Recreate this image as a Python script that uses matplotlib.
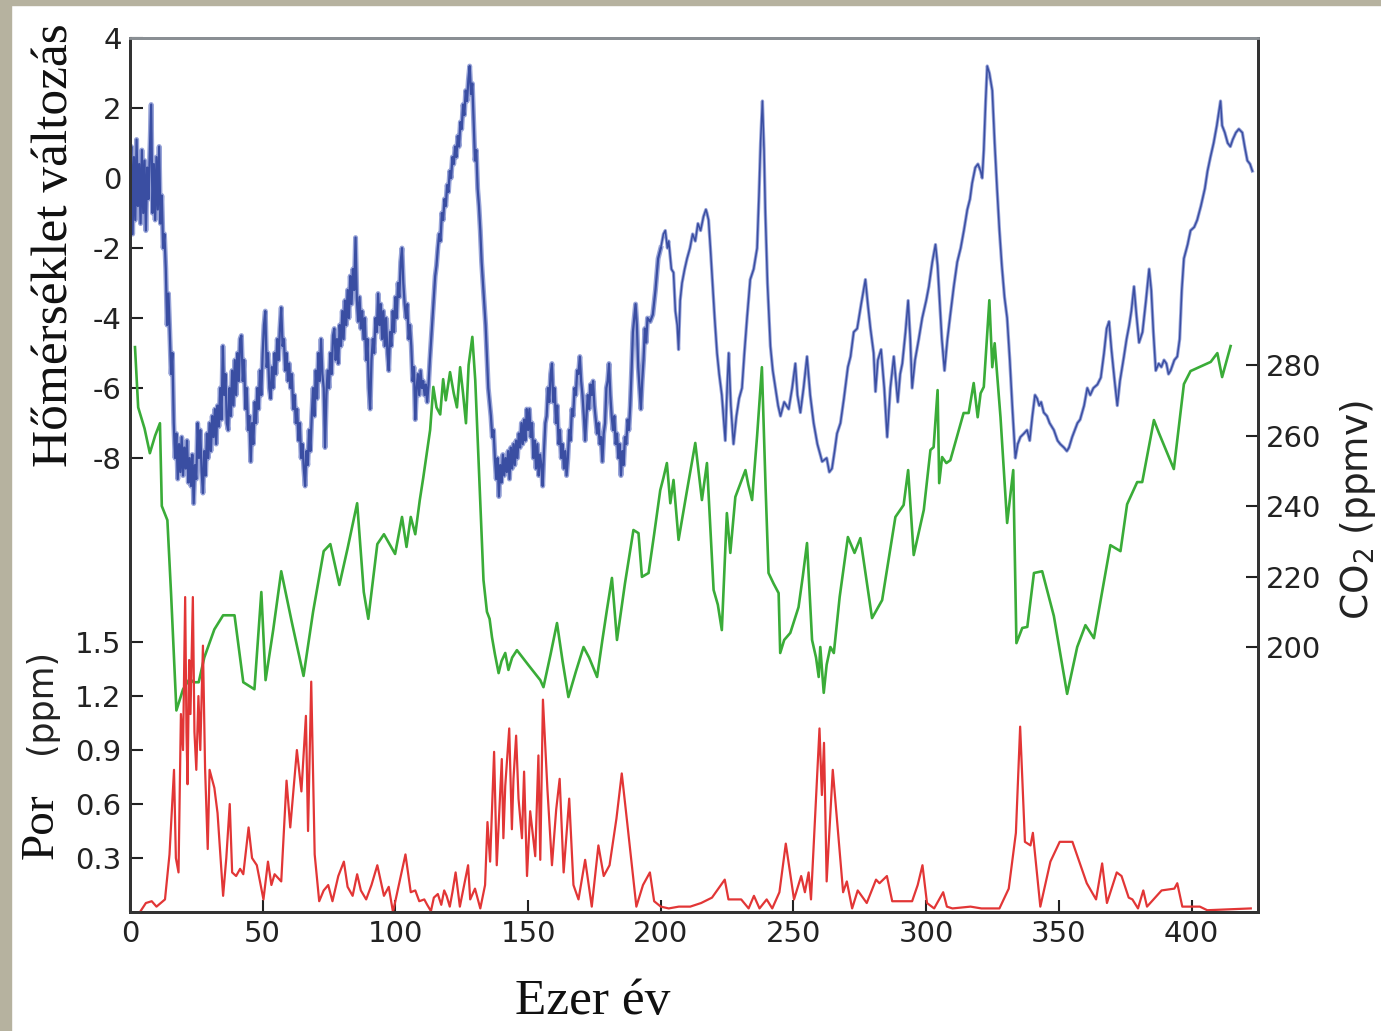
import matplotlib.pyplot as plt
from matplotlib.patches import Rectangle

# Vostok-type record: temperature change, CO2 and dust vs. thousand years
temp_age = [0, 0.5, 1, 1.5, 2, 2.5, 3, 3.5, 4, 4.5, 5, 5.5, 6, 6.5, 7, 7.5, 8, 8.5, 9, 9.5,
            10, 10.5, 11, 11.5, 12, 12.5, 13, 13.5, 14, 14.5, 15, 15.5, 16, 16.5, 17, 17.5, 18, 18.5, 19, 19.5,
            20, 20.5, 21, 21.5, 22, 22.5, 23, 23.5, 24, 24.5, 25, 25.5, 26, 26.5, 27, 27.5, 28, 28.5, 29, 29.5,
            30, 30.5, 31, 31.5, 32, 32.5, 33, 33.5, 34, 34.5, 35, 35.5, 36, 36.5, 37, 37.5, 38, 38.5, 39, 39.5,
            40, 40.5, 41, 41.5, 42, 42.5, 43, 43.5, 44, 44.5, 45, 45.5, 46, 46.5, 47, 47.5, 48, 48.5, 49, 49.5,
            50, 50.5, 51, 51.5, 52, 52.5, 53, 53.5, 54, 54.5, 55, 55.5, 56, 56.5, 57, 57.5, 58, 58.5, 59, 59.5,
            60, 60.5, 61, 61.5, 62, 62.5, 63, 63.5, 64, 64.5, 65, 65.5, 66, 66.5, 67, 67.5, 68, 68.5, 69, 69.5,
            70, 70.5, 71, 71.5, 72, 72.5, 73, 73.5, 74, 74.5, 75, 75.5, 76, 76.5, 77, 77.5, 78, 78.5, 79, 79.5,
            80, 80.5, 81, 81.5, 82, 82.5, 83, 83.5, 84, 84.5, 85, 85.5, 86, 86.5, 87, 87.5, 88, 88.5, 89, 89.5,
            90, 90.5, 91, 91.5, 92, 92.5, 93, 93.5, 94, 94.5, 95, 95.5, 96, 96.5, 97, 97.5, 98, 98.5, 99, 99.5,
            100, 100.5, 101, 101.5, 102, 102.5, 103, 103.5, 104, 104.5, 105, 105.5, 106, 106.5, 107, 107.5, 108, 108.5, 109, 109.5,
            110, 110.5, 111, 111.5, 112, 112.5, 113, 113.5, 114, 114.5, 115, 115.5, 116, 116.5, 117, 117.5, 118, 118.5, 119, 119.5,
            120, 120.5, 121, 121.5, 122, 122.5, 123, 123.5, 124, 124.5, 125, 125.5, 126, 126.5, 127, 127.5, 128, 128.5, 129, 129.5,
            130, 130.5, 131, 131.5, 132, 132.5, 133, 134, 135, 136, 136.5, 137, 137.5, 138, 138.5, 139, 139.5,
            140, 140.5, 141, 141.5, 142, 142.5, 143, 143.5, 144, 144.5, 145, 145.5, 146, 146.5, 147, 147.5, 148, 148.5, 149, 149.5,
            150, 150.5, 151, 151.5, 152, 152.5, 153, 153.5, 154, 154.5, 155, 155.5, 156, 156.5, 157, 157.5, 158, 158.5, 159, 159.5,
            160, 160.5, 161, 161.5, 162, 162.5, 163, 163.5, 164, 164.5, 165, 165.5, 166, 166.5, 167, 167.5, 168, 168.5, 169, 169.5,
            170, 170.5, 171, 171.5, 172, 172.5, 173, 173.5, 174, 174.5, 175, 175.5, 176, 176.5, 177, 177.5, 178, 178.5, 179, 179.5,
            180, 180.5, 181, 181.5, 182, 182.5, 183, 183.5, 184, 184.5, 185, 185.5, 186, 186.5, 187, 187.5, 188, 188.5, 189, 189.5,
            190, 190.5, 191, 191.5, 192, 192.5, 193, 193.5, 194, 194.5, 195, 196, 197, 198, 199,
            200, 201, 201.7, 202.5, 203, 204, 204.8, 205.5, 206.2, 206.7, 207.3, 208, 209, 209.9,
            211, 212, 213, 214, 215, 216.1, 217, 217.4, 218, 218.7, 219.5, 220.3, 221.2, 222, 223, 224.3,
            225, 225.6, 226.4, 227.4, 228.5, 229.5, 230.6, 231.5, 232.5, 233.7, 235, 236.3, 237, 237.6, 238.3, 238.9, 239.4,
            240.2, 241.3, 242.2, 243.2, 244.2, 245.1, 246.5, 248.2, 249.5, 250.7, 251.5, 252.6, 253.8, 255.1, 256.3, 257.6, 259,
            260.8, 262.5, 263.5, 264.5, 265.5, 266.4, 267.7, 269, 270.5, 271.5, 272.7, 274, 275.5, 277.1, 278, 279,
            280.2, 280.9, 281.8, 283, 284.2, 285.3, 286.5, 287.8, 288.6, 289.3, 290.2, 291, 292.2, 293.2, 294, 294.7,
            295.8, 297.2, 298.5, 300, 301, 302.3, 303.5, 304.3, 305, 305.9, 306.9, 308, 309.1, 310.4, 311.7, 313, 314.2,
            315.5, 316.5, 317.3, 318.5, 319.5, 320.5, 321.1, 321.7, 322.4, 323, 323.8, 324.9, 325.8, 326.7, 327.6, 328.5,
            329.5, 330.5, 331.5, 332.5, 333.6, 334.5, 335.5, 336.8, 338, 339, 340, 341, 341.8, 342.6, 343.3, 344.3,
            345.5, 346.5, 348.1, 349.5, 350.5, 351.9, 353, 353.8, 355, 356, 357, 358, 359.5, 360.7, 361.8, 363,
            364.5, 365.8, 367, 368, 368.9, 369.8, 371, 372, 373, 374.5, 375.5, 376.5, 377.3, 378.3, 379.2, 380.2,
            381.5, 382.8, 384, 384.8, 385.6, 386.5, 387.6, 388.6, 389.6, 390.5, 391.3, 392.1, 393.5, 394.6, 395.5, 396.3,
            397.1, 398.5, 399.6, 401, 402.1, 403.5, 405, 406, 407.1, 408.3, 409.5, 410.3, 410.9, 411.5, 412.5, 413.6,
            414.6, 415.5, 416.7, 417.8, 419.1, 420, 421, 422, 422.9]
temp_change = [-0.2, 0.9, -1.6, 0.6, -1.2, 1.1, -0.8, 0.4, -1.3, 0.8, -1.0, 0.5, -1.5, 0.3, -0.6, 0.7, 2.1, -1.0, 0.4, -1.2,
               0.6, -0.9, 0.9, -1.3, -0.5, -2.0, -1.6, -2.6, -4.2, -3.3, -4.4, -5.6, -5.0, -7.0, -8.0, -7.3, -8.6, -7.6, -8.4, -7.4,
               -8.5, -7.7, -8.3, -7.5, -8.7, -8.0, -8.8, -7.9, -9.3, -8.2, -8.6, -7.0, -8.0, -7.2, -8.4, -9.0, -7.8, -8.5, -7.3, -8.0,
               -7.0, -7.8, -6.8, -7.4, -6.6, -7.6, -6.5, -7.1, -6.0, -6.9, -4.8, -6.2, -5.6, -7.0, -7.2, -6.0, -6.8, -5.5, -6.5, -5.2,
               -6.2, -5.0, -5.8, -4.6, -4.5, -5.8, -5.2, -6.6, -6.0, -7.2, -6.8, -8.1, -7.0, -7.6, -6.4, -7.0, -6.0, -6.6, -5.5, -6.2,
               -5.0, -4.2, -3.8, -5.4, -5.0, -6.0, -6.3, -5.4, -6.0, -5.0, -5.6, -4.6, -5.2, -4.3, -3.7, -4.8, -4.6, -5.5, -5.0, -5.8,
               -5.3, -6.0, -5.6, -6.6, -6.2, -7.0, -6.6, -7.5, -7.0, -8.0, -7.6, -8.3, -8.8, -7.8, -8.2, -7.2, -7.8, -6.8, -6.0, -6.8,
               -5.5, -6.3, -5.0, -5.8, -4.6, -5.6, -6.0, -7.7, -6.2, -5.5, -6.0, -5.0, -5.6, -4.5, -4.3, -5.2, -4.6, -5.3, -4.2, -4.8,
               -3.8, -4.6, -3.5, -4.2, -3.2, -4.0, -2.8, -3.6, -2.6, -3.2, -1.7, -3.5, -4.1, -3.4, -4.3, -3.8, -4.6, -4.0, -5.2, -4.6,
               -6.0, -6.6, -5.2, -4.6, -5.0, -4.0, -4.4, -3.3, -4.2, -3.6, -4.6, -3.8, -4.8, -4.0, -5.0, -5.5, -4.4, -4.8, -3.8, -4.4,
               -3.4, -4.0, -3.0, -3.4, -2.4, -2.0, -3.0, -3.6, -4.0, -3.6, -4.6, -4.2, -4.8, -5.8, -5.4, -6.9, -6.0, -5.6, -6.2, -5.5,
               -6.0, -5.8, -6.2, -5.9, -6.4, -5.9, -5.2, -4.6, -4.0, -3.4, -2.8, -2.5, -2.0, -1.6, -1.8, -1.0, -1.2, -0.6, -0.8, -0.2,
               -0.4, 0.2, 0.0, 0.6, 0.4, 0.9, 0.6, 1.2, 0.9, 1.6, 1.4, 2.1, 1.8, 2.5, 2.2, 2.8, 3.2, 2.4, 2.7, 1.6,
               0.5, 0.8, -0.3, -0.8, -1.5, -2.4, -3.0, -4.2, -6.0, -6.8, -7.4, -7.2, -8.0, -8.6, -8.0, -9.1, -8.2,
               -8.7, -7.9, -8.5, -8.0, -8.4, -7.8, -8.6, -7.7, -8.3, -7.6, -8.2, -7.5, -8.0, -7.3, -7.7, -7.0, -7.6, -6.9, -7.5, -6.6,
               -7.2, -6.6, -7.4, -7.0, -8.0, -7.5, -8.3, -7.6, -8.5, -7.9, -8.2, -8.8, -7.8, -7.0, -6.8, -6.0, -6.4, -5.6, -5.3, -6.4,
               -6.0, -7.0, -6.5, -7.6, -7.2, -8.0, -7.6, -8.3, -7.8, -8.5, -8.0, -7.2, -7.5, -6.6, -6.8, -6.0, -6.2, -5.5, -5.6, -5.1,
               -5.8, -6.2, -6.8, -7.5, -6.8, -6.2, -6.6, -5.9, -6.2, -5.8, -6.5, -6.9, -7.3, -7.0, -7.6, -7.4, -8.1, -7.3, -7.0, -6.0,
               -5.8, -5.3, -6.2, -6.8, -7.2, -6.8, -7.6, -7.3, -8.0, -7.6, -8.5, -7.8, -8.2, -7.4, -7.6, -6.9, -7.2, -6.5, -5.5, -4.4,
               -4.0, -3.6, -4.2, -5.4, -6.0, -6.6, -5.8, -5.2, -4.3, -4.7, -4.0, -4.1, -3.9, -3.2, -2.3,
               -2.0, -1.6, -1.5, -2.0, -1.8, -2.6, -2.7, -3.8, -4.2, -4.9, -3.5, -3.0, -2.6, -2.3,
               -2.0, -1.6, -1.8, -1.3, -1.5, -1.1, -0.9, -1.0, -1.2, -2.0, -3.0, -4.0, -5.0, -5.6, -6.2, -7.5,
               -6.0, -5.0, -6.5, -7.6, -6.8, -6.3, -6.0, -5.0, -4.0, -2.9, -2.6, -2.0, -0.5, 1.0, 2.2, 0.8, -1.0,
               -3.0, -4.8, -5.5, -6.0, -6.5, -6.8, -6.4, -6.6, -6.0, -5.3, -6.2, -6.7, -6.0, -5.1, -6.2, -7.0, -7.6,
               -8.1, -8.0, -8.4, -8.3, -7.8, -7.3, -7.0, -6.3, -5.4, -5.1, -4.4, -4.3, -3.6, -2.9, -3.6, -4.3,
               -5.0, -6.1, -5.2, -4.9, -6.0, -7.4, -6.0, -5.1, -5.8, -6.4, -5.6, -5.3, -4.4, -3.5, -4.6, -6.0,
               -5.2, -4.6, -4.0, -3.5, -3.1, -2.4, -1.9, -2.5, -3.4, -4.6, -5.5, -4.6, -3.9, -3.1, -2.4, -2.0, -1.5,
               -0.9, -0.6, -0.15, 0.3, 0.4, 0.2, 0.0, 0.8, 2.2, 3.2, 3.0, 2.5, 1.0, -0.3, -1.5, -2.5,
               -3.4, -4.0, -5.2, -6.6, -8.0, -7.6, -7.4, -7.3, -7.2, -7.5, -6.8, -6.2, -6.3, -6.5, -6.4, -6.7,
               -6.8, -7.0, -7.2, -7.5, -7.6, -7.7, -7.8, -7.7, -7.4, -7.2, -7.0, -6.9, -6.5, -6.0, -6.2, -6.0,
               -5.9, -5.7, -5.0, -4.3, -4.1, -4.9, -5.8, -6.5, -5.8, -5.1, -4.6, -4.2, -3.8, -3.1, -3.9, -4.7,
               -4.4, -3.5, -2.6, -3.2, -4.4, -5.5, -5.3, -5.4, -5.2, -5.3, -5.6, -5.5, -5.2, -5.1, -4.6, -3.2,
               -2.3, -1.9, -1.5, -1.4, -1.2, -0.8, -0.3, 0.2, 0.6, 1.0, 1.5, 1.9, 2.2, 1.5, 1.3, 1.0,
               0.9, 1.1, 1.3, 1.4, 1.3, 0.9, 0.5, 0.4, 0.2]

co2_age = [1.9, 3.1, 5.5, 7.5, 9.5, 11.3, 12, 14.1, 15.5, 17.5, 20, 22.5, 24, 25.9, 28, 31.8, 35.1, 39.4,
           42.7, 46.9, 49.5, 51.1, 54, 57, 61, 65.4, 69, 73, 75.5, 78.9, 82, 85.6, 88.1, 89.8, 93.2, 95.7,
           99.9, 102.5, 104.2, 105.8, 107.5, 109.2, 110.5, 113.1, 114.3, 115.5, 116.9, 118, 119, 120.6, 122,
           123.2, 124.4, 125.5, 126.6, 127.6, 129, 130.1, 131.5, 133.2, 134.5, 135.5, 136.4, 137.5, 138.9, 140,
           141.4, 142.6, 144, 145.8, 150, 154.6, 155.8, 158.5, 160.9, 163, 165.2, 168, 170.9, 173, 176, 178,
           179.7, 181.6, 183.5, 186.5, 189.7, 191.6, 192.9, 195.4, 197.5, 199.8, 201, 202.3, 203.6, 204.8, 206.7,
           209.9, 213, 215.5, 217.4, 219.9, 221.5, 223, 224.9, 226.2, 228.1, 231.9, 233, 234.4, 236.3, 238.1,
           239.5, 240.6, 242.5, 244.4, 245, 246.5, 248.8, 251.9, 253.5, 255.1, 257, 258.5, 259.5, 260.1, 261.4,
           262.5, 263.9, 265.2, 267.4, 270.5, 273, 275.2, 279.6, 283.4, 288.4, 291.5, 293.2, 295.3, 299.1, 301.6,
           302.8, 304.3, 304.9, 306, 307.6, 309.1, 312.3, 314.1, 316, 317.9, 319.4, 320.5, 321.7, 323.8, 324.9,
           325.8, 328, 330.5, 332.8, 334, 336.2, 338.1, 340.6, 343.7, 348.1, 353.1, 356.9, 360, 363.2, 369.4,
           373.2, 375.7, 379.5, 381.4, 385.8, 387.7, 393.3, 397.1, 399.6, 407.2, 409.7, 411.5, 414.7]
co2_ppmv = [285.1, 268, 262, 255, 260, 263.5, 240, 236, 215, 182, 188, 191, 190, 190, 197, 205, 209, 209,
            190, 188, 215.6, 190.6, 205, 221.5, 207, 191.8, 210, 227.2, 229.2, 217.6, 228, 240.8, 215.6, 208, 229.2, 232,
            226.4, 236.9, 228.4, 236.9, 232, 241.7, 248, 261.6, 273.8, 268, 266, 276, 270, 278, 272,
            268, 279.4, 272, 263.5, 280, 288, 275.7, 250, 219, 210, 208, 202.8, 198, 192.6, 196,
            198.3, 193.5, 197, 199.1, 195, 190.6, 188.6, 198, 206.8, 196, 185.8, 193, 200, 197, 191.5, 202,
            210.5, 219.6, 202, 218, 233.2, 232.3, 219.9, 221, 232, 244.5, 248, 252.2, 240.8, 247.4, 230.4,
            244.5, 257.9, 241.7, 252.2, 216.2, 212, 204.8, 238, 226.7, 242.6, 250.2, 246, 241.7, 260, 279.4,
            245, 221, 218, 215.3, 198.3, 202, 204, 211.3, 220, 229.5, 202, 197, 191.5, 200, 187,
            195, 200, 198.3, 214.2, 231.2, 226.7, 230.9, 208.2, 213.3, 236.9, 240.3, 250.2, 226.1, 238.9, 255.9,
            256.7, 272.9, 246.5, 253.9, 252.2, 253, 261.6, 266.4, 266.4, 274.9, 265.2, 272, 273.8, 298.4, 279.4,
            286.2, 265.2, 235.2, 250.2, 201.1, 205.4, 205.7, 221, 221.5, 208.8, 186.7, 200, 206.2, 202.5, 228.9,
            227.2, 240.5, 246.8, 246.8, 264.4, 260.7, 250.5, 274.6, 278.3, 280.9, 283.4, 276.6, 285.4]

dust_age = [4, 6, 8.2, 10, 13.2, 14.9, 16.6, 17.3, 18.3, 19.2, 20, 20.8, 21.3, 21.7, 22.3, 22.8, 23.7, 24.3, 25, 25.8,
            26.5, 27.5, 28.3, 29.3, 30, 31.8, 33, 35.1, 36.3, 37.6, 38.5, 40, 41.5, 42.7, 44.7, 46, 47.8, 50.3, 52, 53.3,
            54.5, 57, 59, 60.4, 62.9, 64.6, 66.3, 67.1, 68.3, 69.6, 71.3, 73, 74.7, 76.3, 78.5, 80.6, 82, 83.9, 85.6, 87,
            89, 91, 93.2, 95.7, 97.5, 99.1, 101.6, 103.8, 105.8, 107.5, 109, 110.9, 112, 113.4, 114.5, 116, 117.3, 118.4,
            119.3, 120.5, 121.5, 122.7, 124.3, 125.5, 127.4, 128.2, 130, 132, 133.8, 134.7, 135.7, 137.2, 138.2, 139.2,
            140.1, 140.7, 141.4, 142.9, 143.9, 144.5, 145.5, 146.4, 147.7, 148.5, 149.6, 150.8, 152.7, 153.9, 154.6,
            155.6, 157.3, 159, 160.6, 161.9, 163.4, 165.5, 167.1, 169, 171.5,
            174, 176.5, 178.5, 180.7, 183.3, 185.3, 187.4, 190.8, 193.3, 195.9, 197.5, 200, 203, 206.8,
            211.1, 215.2, 219.3, 224.1, 225.5, 230.3, 233.1, 235.1, 237.2, 239.9, 242, 244.7, 247.1, 250.2, 252.9,
            254.3, 255.7, 256.6, 259.8, 260.7, 261.5, 262.5, 264.8, 268.7, 270.1, 272.1, 274.2, 277.6, 281.1, 282.4,
            285.2, 287.2, 294.7, 296.8, 298.6, 300.3, 303, 306.4, 307.8, 309.9, 316.7, 320.8, 327.6, 331.1, 333.8,
            335.4, 337.2, 339.3, 340.2, 343, 346.8, 350.3, 355.1, 360.5, 364, 366.3, 368.1, 371.8, 373.6, 376.3,
            377.7, 379.8, 381.8, 383.2, 388.7, 393.5, 394.6, 396.5, 403.1, 405.9, 422.3]
dust_ppm = [0.005, 0.05, 0.06, 0.03, 0.07, 0.32, 0.79, 0.3, 0.22, 1.1, 0.9, 1.75, 1.0, 0.71, 1.4, 1.1, 1.75, 1.0, 0.79, 1.2,
            0.9, 1.48, 0.8, 0.35, 0.79, 0.69, 0.55, 0.09, 0.3, 0.6, 0.22, 0.2, 0.24, 0.21, 0.47, 0.3, 0.26, 0.07, 0.28, 0.15,
            0.21, 0.17, 0.73, 0.47, 0.9, 0.67, 1.09, 0.45, 1.28, 0.32, 0.06, 0.12, 0.15, 0.06, 0.2, 0.28, 0.14, 0.09, 0.21, 0.12,
            0.07, 0.15, 0.26, 0.09, 0.14, 0.0, 0.17, 0.32, 0.11, 0.12, 0.06, 0.07, 0.04, 0.005, 0.08, 0.1, 0.04, 0.12,
            0.09, 0.03, 0.11, 0.22, 0.03, 0.12, 0.26, 0.07, 0.13, 0.02, 0.15, 0.5, 0.28, 0.89, 0.26, 0.57,
            0.85, 0.41, 0.7, 1.02, 0.46, 0.74, 0.98, 0.63, 0.41, 0.78, 0.2, 0.56, 0.31, 0.87, 0.29,
            1.18, 0.68, 0.26, 0.57, 0.74, 0.22, 0.63, 0.15, 0.07, 0.29,
            0.03, 0.37, 0.2, 0.26, 0.52, 0.77, 0.49, 0.03, 0.15, 0.22, 0.06, 0.03, 0.02, 0.03,
            0.03, 0.05, 0.08, 0.18, 0.07, 0.07, 0.02, 0.09, 0.02, 0.07, 0.02, 0.11, 0.38, 0.07, 0.2,
            0.11, 0.22, 0.07, 1.02, 0.65, 0.94, 0.17, 0.79, 0.11, 0.17, 0.02, 0.12, 0.05, 0.18, 0.16,
            0.2, 0.06, 0.06, 0.15, 0.26, 0.05, 0.02, 0.11, 0.03, 0.02, 0.03, 0.02, 0.02, 0.13, 0.44,
            1.03, 0.39, 0.37, 0.44, 0.03, 0.28, 0.39, 0.39, 0.16, 0.07, 0.27, 0.05, 0.22, 0.2, 0.08,
            0.07, 0.02, 0.12, 0.03, 0.12, 0.13, 0.16, 0.03, 0.03, 0.01, 0.02]

x_ticks = [0, 50, 100, 150, 200, 250, 300, 350, 400]
temp_ticks = [-8, -6, -4, -2, 0, 2, 4]
co2_ticks = [200, 220, 240, 260, 280]
dust_ticks = [0.3, 0.6, 0.9, 1.2, 1.5]

BLUE = '#3a4ea2'
BLUE_LIGHT = '#98a4d8'
GREEN = '#3aac38'
RED = '#e23636'
SERIF = ['Liberation Serif', 'DejaVu Serif']

plt.rcParams['font.family'] = ['DejaVu Sans']
plt.rcParams['axes.unicode_minus'] = False

fig = plt.figure(figsize=(13.81, 10.31), dpi=100)
# slide background strips on the left and top
fig.patches.append(Rectangle((0, 0), 0.008, 1, transform=fig.transFigure, color='#b6b29f', zorder=0))
fig.patches.append(Rectangle((0, 0.995), 1, 0.005, transform=fig.transFigure, color='#b6b29f', zorder=0))

ax = fig.add_axes([0.0941, 0.1154, 0.8168, 0.8477])  # dust axis (bottom)
ax_t = ax.twinx()  # temperature, ticks moved to the left
ax_c = ax.twinx()  # co2, ticks on the right

ax.plot(dust_age, dust_ppm, color=RED, lw=1.6)
ax_c.plot(co2_age, co2_ppmv, color=GREEN, lw=1.9)

# temperature: the older part of the record is noisy and drawn as a thick band
n_noisy = temp_age.index(200)
ax_t.plot(temp_age[:n_noisy + 1], temp_change[:n_noisy + 1], color=BLUE_LIGHT, lw=3.6, solid_joinstyle='round')
ax_t.plot(temp_age[n_noisy:], temp_change[n_noisy:], color=BLUE_LIGHT, lw=2.4, solid_joinstyle='round')
ax_t.plot(temp_age[:n_noisy + 1], temp_change[:n_noisy + 1], color=BLUE, lw=1.6)
ax_t.plot(temp_age[n_noisy:], temp_change[n_noisy:], color=BLUE, lw=1.1)

ax.set_xlim(0, 425)
ax.set_ylim(0, 4.856)
ax_t.set_ylim(-20.97, 4.0)
ax_c.set_ylim(124.8, 372.8)

ax.set_xticks(x_ticks)
ax.set_yticks(dust_ticks)
ax.set_yticklabels(['%.1f' % v for v in dust_ticks])
ax_t.yaxis.tick_left()
ax_t.set_yticks(temp_ticks)
ax_c.set_yticks(co2_ticks)

for a in (ax, ax_t, ax_c):
    a.tick_params(direction='in', length=9, width=1.5, labelsize=21, colors='#222222', pad=6)
    for s in a.spines.values():
        s.set_linewidth(2)
        s.set_color('#333333')
    a.spines['top'].set_color('#8a8f94')

ax.set_zorder(1)
ax.patch.set_visible(False)

fig.text(0.040, 0.762, 'Hőmérséklet változás', rotation=90, ha='center', va='center',
         family=SERIF, fontsize=37, color='#111111')
fig.text(0.030, 0.199, 'Por', rotation=90, ha='center', va='center',
         family=SERIF, fontsize=34, color='#111111')
fig.text(0.030, 0.320, '(ppm)', rotation=90, ha='center', va='center',
         fontsize=25, color='#222222')
fig.text(0.983, 0.505, 'CO$_2$ (ppmv)', rotation=90, ha='center', va='center',
         fontsize=27, color='#222222')
fig.text(0.429, 0.028, 'Ezer év', ha='center', va='center',
         family=SERIF, fontsize=37, color='#111111')

fig.savefig('out.png', dpi=100)
